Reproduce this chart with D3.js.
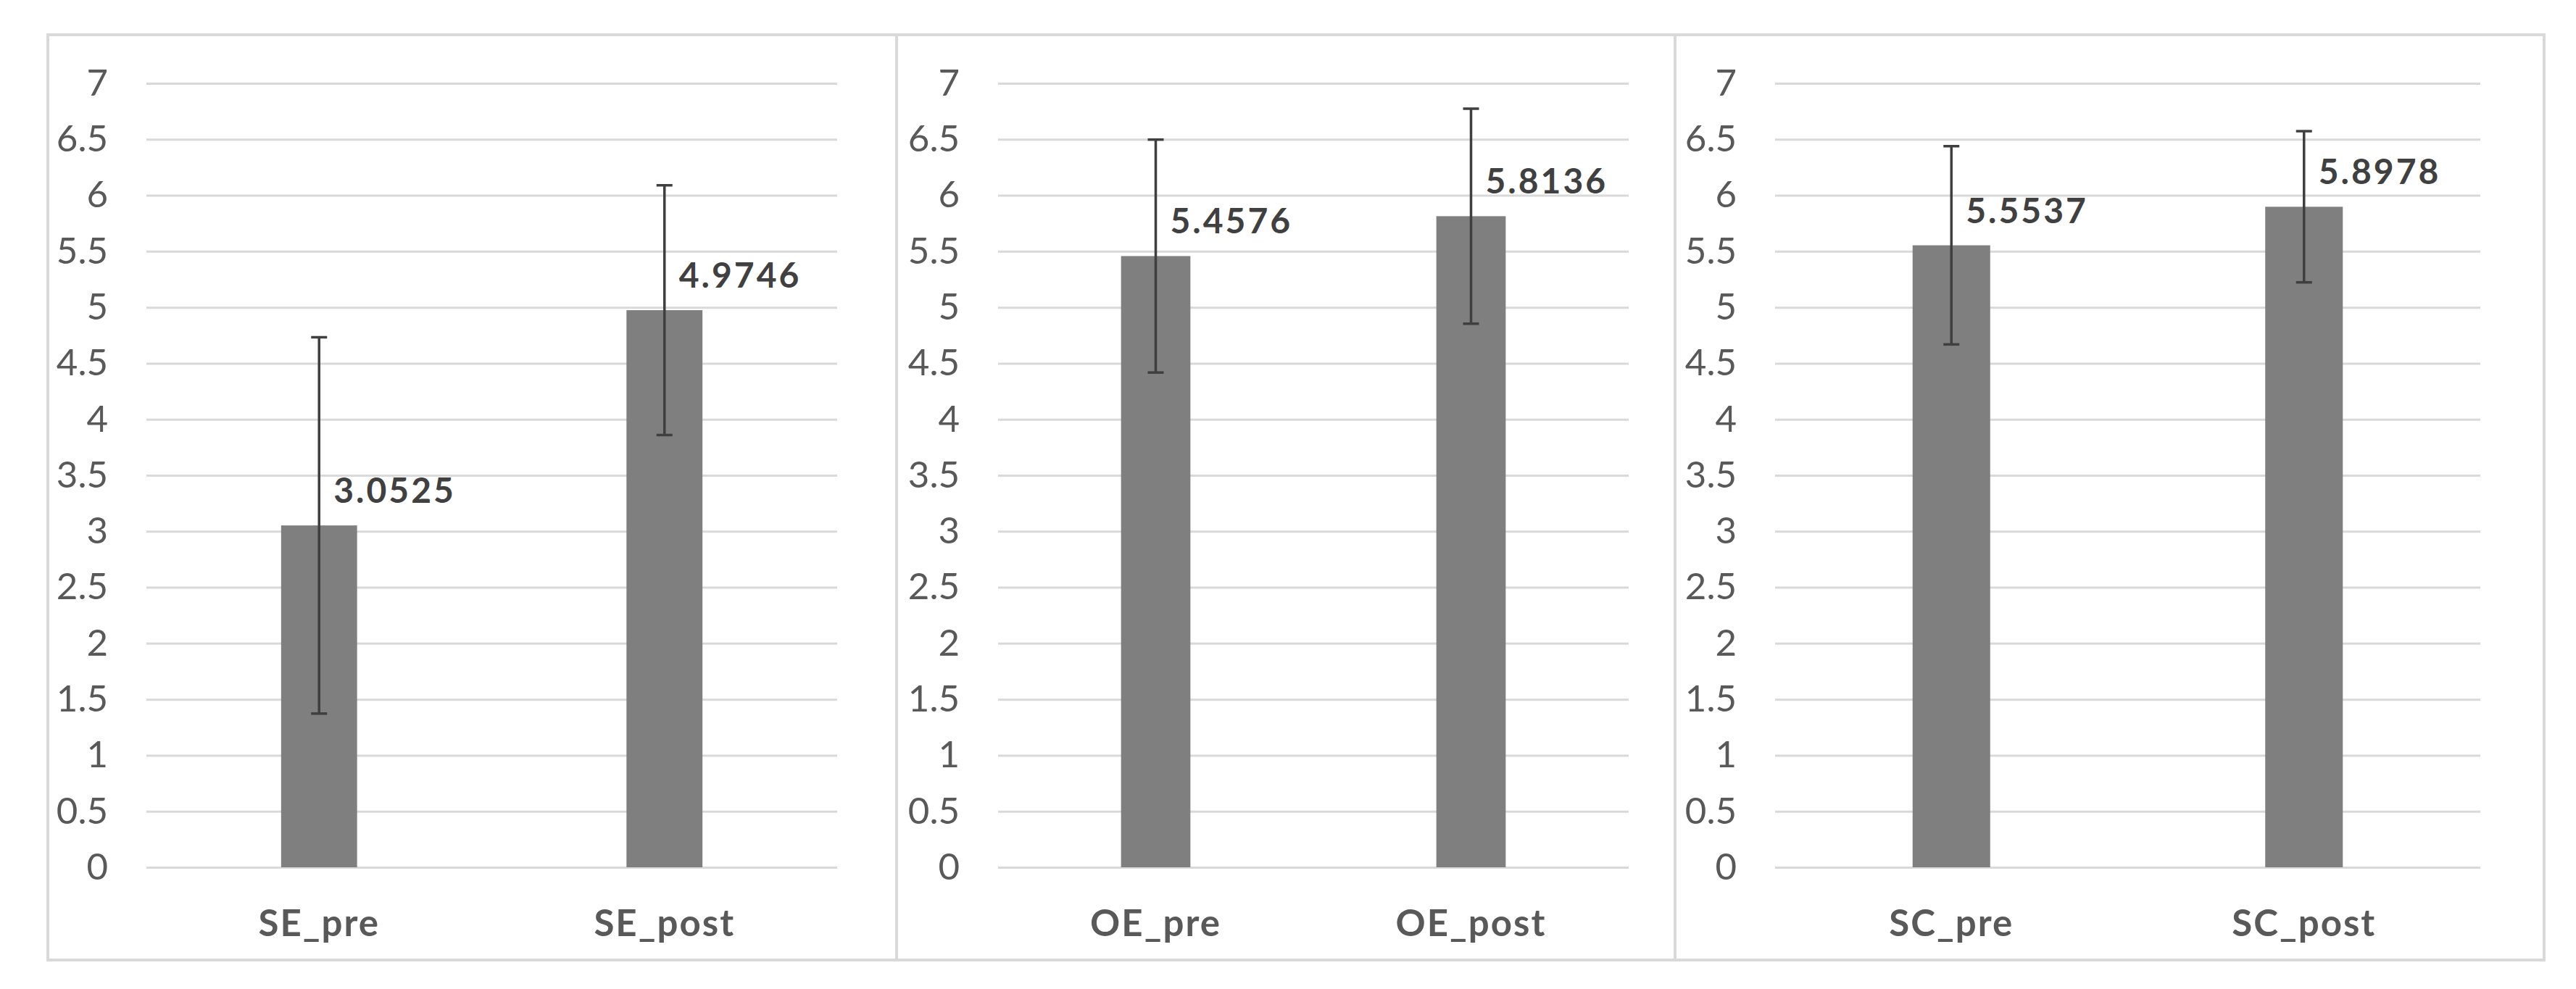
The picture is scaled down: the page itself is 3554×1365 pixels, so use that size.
<!DOCTYPE html>
<html>
<head>
<meta charset="utf-8">
<script src="https://cdn.jsdelivr.net/npm/d3@7"></script>
<style>
  html, body { margin: 0; padding: 0; background: #fff; }
  text { font-family: Lato, "Open Sans", sans-serif; }
</style>
</head>
<body>
<svg id="chart"></svg>
<script>
// data
var seCats = ["SE_pre", "SE_post"];
var seMeans = [3.0525, 4.9746];
var seErr = [1.68, 1.115];

var oeCats = ["OE_pre", "OE_post"];
var oeMeans = [5.4576, 5.8136];
var oeErr = [1.04, 0.96];

var scCats = ["SC_pre", "SC_post"];
var scMeans = [5.5537, 5.8978];
var scErr = [0.885, 0.675];

var yTicks = [0, 0.5, 1, 1.5, 2, 2.5, 3, 3.5, 4, 4.5, 5, 5.5, 6, 6.5, 7];
var yTickLabels = ["0", "0.5", "1", "1.5", "2", "2.5", "3", "3.5", "4", "4.5", "5", "5.5", "6", "6.5", "7"];

var W = 3554, H = 1365;
var svg = d3.select("#chart").attr("width", W).attr("height", H);

// three separate charts, side by side
var panels = [
  {cats: seCats, means: seMeans, err: seErr, x0: 66,   x1: 1237, left: 202,  right: 1155},
  {cats: oeCats, means: oeMeans, err: oeErr, x0: 1237, x1: 2311, left: 1377, right: 2247},
  {cats: scCats, means: scMeans, err: scErr, x0: 2311, x1: 3510, left: 2449, right: 3422}
];
var boxTop = 48, boxBottom = 1325;

var y = d3.scaleLinear().domain([0, 7]).range([1197, 115]);

panels.forEach(function(p) {
  svg.append("rect")
    .attr("x", p.x0).attr("y", boxTop)
    .attr("width", p.x1 - p.x0).attr("height", boxBottom - boxTop)
    .attr("fill", "none").attr("stroke", "#d9d9d9").attr("stroke-width", 4);

  var x = d3.scaleBand().domain(p.cats).range([p.left, p.right]);
  var g = svg.append("g");

  // gridlines + y labels
  var yAxis = g.append("g")
    .attr("transform", "translate(" + p.left + ",0)")
    .call(d3.axisLeft(y).tickValues(yTicks)
      .tickFormat(function(d, i) { return yTickLabels[i]; })
      .tickSize(-(p.right - p.left)).tickPadding(53));
  yAxis.select(".domain").remove();
  yAxis.selectAll("line").attr("stroke", "#d9d9d9").attr("stroke-width", 3);
  yAxis.selectAll("text")
    .attr("fill", "#595959").style("font-size", "51px").style("font-family", "Lato");

  // category labels
  var xAxis = g.append("g")
    .attr("transform", "translate(0," + y(0) + ")")
    .call(d3.axisBottom(x).tickSize(0).tickPadding(59));
  xAxis.select(".domain").remove();
  xAxis.selectAll("text")
    .attr("fill", "#595959").style("font-size", "51px").style("font-weight", "bold")
    .style("font-family", "Lato").style("letter-spacing", "2px");

  var rows = p.cats.map(function(c, i) {
    return {cat: c, mean: p.means[i], err: p.err[i]};
  });
  var bw = x.bandwidth() * 0.22;

  g.selectAll(".bar").data(rows).enter().append("rect")
    .attr("class", "bar")
    .attr("x", function(d) { return x(d.cat) + x.bandwidth() / 2 - bw / 2; })
    .attr("y", function(d) { return y(d.mean); })
    .attr("width", bw)
    .attr("height", function(d) { return y(0) - y(d.mean); })
    .attr("fill", "#7f7f7f");

  // error bars
  var eb = g.selectAll(".err").data(rows).enter().append("g").attr("class", "err")
    .attr("stroke", "#3f3f3f").attr("stroke-width", 3.5);
  eb.append("line")
    .attr("x1", function(d) { return x(d.cat) + x.bandwidth() / 2; })
    .attr("x2", function(d) { return x(d.cat) + x.bandwidth() / 2; })
    .attr("y1", function(d) { return y(d.mean + d.err); })
    .attr("y2", function(d) { return y(d.mean - d.err); });
  [1, -1].forEach(function(s) {
    eb.append("line")
      .attr("x1", function(d) { return x(d.cat) + x.bandwidth() / 2 - 11; })
      .attr("x2", function(d) { return x(d.cat) + x.bandwidth() / 2 + 11; })
      .attr("y1", function(d) { return y(d.mean + s * d.err); })
      .attr("y2", function(d) { return y(d.mean + s * d.err); });
  });

  // value labels
  g.selectAll(".lbl").data(rows).enter().append("text")
    .attr("x", function(d) { return x(d.cat) + x.bandwidth() / 2 + 20; })
    .attr("y", function(d) { return y(d.mean) - 31; })
    .attr("fill", "#404040")
    .style("font-size", "48px").style("font-weight", "bold").style("letter-spacing", "3px")
    .text(function(d) { return d.mean.toFixed(4); });
});
</script>
</body>
</html>
